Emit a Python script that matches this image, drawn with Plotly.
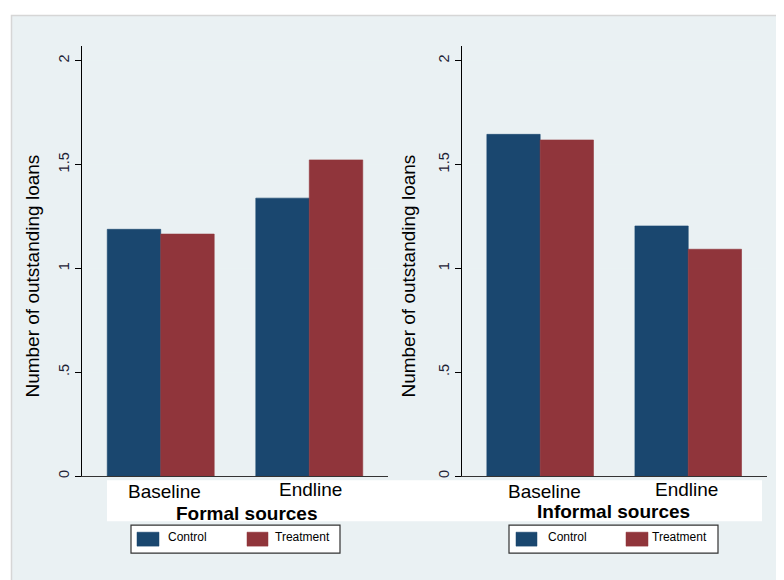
import plotly.graph_objects as go

# ---- data ----
categories = ["Baseline", "Endline"]
formal_control = [1.188, 1.338]
formal_treatment = [1.165, 1.522]
informal_control = [1.645, 1.204]
informal_treatment = [1.618, 1.092]
panel_titles = ["Formal sources", "Informal sources"]
series_names = ["Control", "Treatment"]
y_tickvals = [0, 0.5, 1, 1.5, 2]
y_ticktext = ["0", ".5", "1", "1.5", "2"]
y_title = "Number of outstanding loans"

# ---- styling ----
W, H = 784, 580
OFF = 8  # page body margin shifts the figure by 8px
NAVY = "#1a476f"
MAROON = "#90353b"
BG = "#eaf1f3"
FONT = "Arial, Liberation Sans, sans-serif"


def px(x):
    return (x - OFF) / W


def py(y):
    return 1 - (y - OFF) / H


fig = go.Figure()

panels = [
    dict(xa="x", ya="y", ctrl=formal_control, trt=formal_treatment,
         dom=(82, 388), legend_x=131, ytitle_x=33, title_x=246.5, title_y=515,
         sw=[(137, 159), (247, 268)], tx=[165.5, 273]),
    dict(xa="x2", ya="y2", ctrl=informal_control, trt=informal_treatment,
         dom=(461.7, 766.7), legend_x=509, ytitle_x=409, title_x=613, title_y=513.5,
         sw=[(516, 537), (626, 648)], tx=[545.5, 650]),
]

for i, p in enumerate(panels):
    for name, vals, col in [(series_names[0], p["ctrl"], NAVY), (series_names[1], p["trt"], MAROON)]:
        fig.add_trace(go.Bar(
            x=categories, y=vals, name=name, marker=dict(color=col, line=dict(width=0.6, color=col)),
            xaxis=p["xa"], yaxis=p["ya"], showlegend=False,
        ))

shapes = []
annotations = []

# outer graph region
shapes.append(dict(type="rect", xref="paper", yref="paper", x0=px(11.5), x1=px(800), y0=py(15.5), y1=py(600),
                   fillcolor=BG, line=dict(color="#d6d6d6", width=1.5), layer="below"))
# white label band beneath the plots
shapes.append(dict(type="rect", xref="paper", yref="paper", x0=px(107), x1=px(762), y0=py(482), y1=py(523),
                   fillcolor="white", line=dict(width=0), layer="below"))

ydom = (py(477.7), py(46))
layout_axes = {}
for i, p in enumerate(panels):
    sfx = "" if i == 0 else str(i + 1)
    layout_axes["xaxis" + sfx] = dict(
        domain=[px(p["dom"][0]), px(p["dom"][1])], anchor="y" + sfx, type="category",
        categoryorder="array", categoryarray=categories, range=[-0.53, 1.53],
        showticklabels=False, ticks="", showline=True, linecolor="#333333", linewidth=1,
        showgrid=False, zeroline=False, fixedrange=True,
    )
    layout_axes["yaxis" + sfx] = dict(
        domain=list(ydom), anchor="x" + sfx, range=[0, 2.071],
        tickvals=y_tickvals, ticktext=y_ticktext, tickangle=-90,
        ticks="outside", ticklen=6, tickcolor="black", tickwidth=1,
        tickfont=dict(family=FONT, size=14.5, color="#1c2233"),
        showline=True, linecolor="black", linewidth=1,
        showgrid=True, gridcolor="#eaf2f3", gridwidth=1, zeroline=False, fixedrange=True,
    )

    # y-axis title
    annotations.append(dict(text=y_title, xref="paper", yref="paper", x=px(p["ytitle_x"]), y=py(277.5),
                            xanchor="center", yanchor="middle", textangle=-90, showarrow=False,
                            font=dict(family=FONT, size=19, color="black")))
    # category labels
    for cat, dx, yy in [(categories[0], 4, 492.7), (categories[1], 1 if i == 0 else -2, 490.7)]:
        annotations.append(dict(text=cat, xref=p["xa"], yref="paper", x=cat, xshift=dx, y=py(yy),
                                xanchor="center", yanchor="middle", showarrow=False,
                                font=dict(family=FONT, size=19, color="black")))
    # panel title
    annotations.append(dict(text="<b>" + panel_titles[i] + "</b>", xref="paper", yref="paper",
                            x=px(p["title_x"]), y=py(p["title_y"]), xanchor="center", yanchor="middle",
                            showarrow=False, font=dict(family=FONT, size=19, color="black")))
    # legend box
    lx = p["legend_x"]
    shapes.append(dict(type="rect", xref="paper", yref="paper", x0=px(lx), x1=px(lx + 209), y0=py(527), y1=py(555),
                       fillcolor="white", line=dict(color="#333333", width=1.2)))
    for (s0, s1), tx, name, col in zip(p["sw"], p["tx"], series_names, [NAVY, MAROON]):
        shapes.append(dict(type="rect", xref="paper", yref="paper", x0=px(s0), x1=px(s1), y0=py(534), y1=py(548),
                           fillcolor=col, line=dict(color=col, width=0.5)))
        annotations.append(dict(text=name, xref="paper", yref="paper", x=px(tx), y=py(538.5),
                                xanchor="left", yanchor="middle", showarrow=False,
                                font=dict(family=FONT, size=12, color="black")))

fig.update_layout(
    width=W, height=H, margin=dict(l=0, r=0, t=0, b=0),
    paper_bgcolor="white", plot_bgcolor="white",
    barmode="group", bargap=0.28, bargroupgap=0,
    showlegend=False, shapes=shapes, annotations=annotations,
    font=dict(family=FONT),
    **layout_axes,
)

fig.write_html("out.html")
